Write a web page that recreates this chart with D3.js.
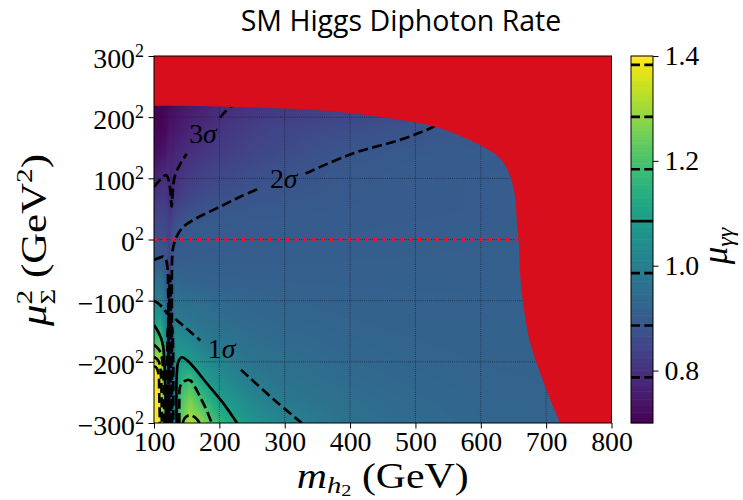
<!DOCTYPE html>
<html><head><meta charset="utf-8">
<script src="https://cdn.jsdelivr.net/npm/d3@7"></script>
<style>body{margin:0;background:#fff} svg{display:block}</style>
</head><body>
<svg id="chart" width="743" height="500"></svg>
<script>
// ---------------- data ----------------
const xTicks = [100, 200, 300, 400, 500, 600, 700, 800];
const yTicks = [-300, -200, -100, 0, 100, 200, 300];
const cbTicks = [0.8, 1.0, 1.2, 1.4];
const contourLevels = [0.787, 0.886, 0.986, 1.085, 1.184, 1.284, 1.383];
const centralLevel = 1.085;

// grid nodes: m_h2 (GeV) and signed mu_Sigma (GeV)
const massNodes = [100, 110, 117, 121, 124, 126, 129, 134, 142, 155, 175, 200, 250, 300, 400, 500, 600, 700, 800];
const muNodes = [300, 219, 180, 140, 105, 75, 50, 25, 0, -30, -65, -100, -135, -170, -200, -230, -260, -300];
const rateGrid = [
 [0.705,0.705,0.71,0.715,0.72,0.72,0.725,0.73,0.735,0.75,0.765,0.785,0.80,0.81,0.83,0.85,0.86,0.87,0.87],
 [0.705,0.705,0.71,0.715,0.72,0.72,0.725,0.73,0.735,0.75,0.765,0.785,0.80,0.81,0.83,0.85,0.86,0.87,0.87],
 [0.71,0.71,0.715,0.725,0.74,0.74,0.74,0.745,0.755,0.77,0.786,0.805,0.83,0.845,0.865,0.88,0.89,0.89,0.89],
 [0.725,0.73,0.74,0.76,0.765,0.765,0.765,0.775,0.78,0.795,0.81,0.825,0.845,0.86,0.887,0.896,0.9,0.9,0.9],
 [0.765,0.78,0.79,0.795,0.78,0.775,0.785,0.795,0.805,0.82,0.835,0.85,0.865,0.88,0.894,0.9,0.903,0.903,0.903],
 [0.80,0.81,0.81,0.80,0.77,0.775,0.795,0.81,0.825,0.84,0.855,0.866,0.882,0.888,0.894,0.9,0.903,0.903,0.903],
 [0.83,0.835,0.83,0.82,0.80,0.80,0.82,0.84,0.855,0.865,0.877,0.887,0.891,0.894,0.898,0.90,0.903,0.903,0.903],
 [0.85,0.855,0.85,0.84,0.83,0.84,0.855,0.87,0.883,0.891,0.894,0.896,0.898,0.899,0.901,0.903,0.905,0.905,0.905],
 [0.87,0.872,0.865,0.855,0.84,0.855,0.88,0.888,0.893,0.896,0.898,0.899,0.90,0.901,0.903,0.905,0.907,0.907,0.907],
 [0.888,0.89,0.88,0.86,0.84,0.87,0.89,0.897,0.90,0.902,0.903,0.904,0.905,0.906,0.907,0.908,0.909,0.909,0.909],
 [0.94,0.95,0.91,0.87,0.80,0.85,0.91,0.928,0.925,0.921,0.918,0.915,0.913,0.912,0.911,0.911,0.911,0.911,0.911],
 [0.99,1.0,0.95,0.88,0.76,0.82,0.93,0.96,0.955,0.95,0.945,0.938,0.928,0.922,0.917,0.915,0.914,0.914,0.914],
 [1.08,1.10,1.0,0.95,0.78,0.82,0.95,1.0,0.985,0.975,0.962,0.95,0.937,0.929,0.922,0.918,0.916,0.916,0.916],
 [1.19,1.22,1.08,0.96,0.76,0.81,0.96,1.06,1.05,1.03,0.992,0.975,0.952,0.94,0.928,0.922,0.919,0.918,0.918],
 [1.34,1.33,1.12,0.97,0.75,0.80,0.97,1.06,1.095,1.08,1.04,1.01,0.968,0.952,0.933,0.925,0.921,0.92,0.92],
 [1.45,1.37,1.15,0.98,0.74,0.80,0.98,1.07,1.15,1.185,1.095,1.05,0.99,0.963,0.94,0.929,0.923,0.921,0.921],
 [1.5,1.37,1.17,0.99,0.74,0.80,0.99,1.08,1.2,1.25,1.17,1.09,1.02,0.978,0.95,0.934,0.925,0.922,0.922],
 [1.5,1.37,1.17,0.99,0.74,0.80,0.99,1.08,1.24,1.32,1.27,1.16,1.066,1.016,0.96,0.94,0.928,0.924,0.924]
];

// excluded (red) region boundary, [m, mu], from the bottom edge up to the left edge
const excludedBoundary = [[721.7,-300],[706.4,-262.4],[691.1,-218.7],[675.8,-169.7],
  [665.5,-109.9],[660.5,-60.8],[657.9,-0.8],[655.4,26.5],[652.5,70],[646,100],[637,122],[624,138],[610,148],
  [594,157],[576,166],[556,175],[534,183],[510,189.5],[476.7,195.4],[440,201.5],[400,207],[350,211.5],[300,214],
  [200,217.5],[100,218.7]];

// contour lines, [m, mu]
const sigma3a = [[100,86],[108,96],[116.8,105],[120,104],[123,95],[125,80],[126.3,62],[127,54],[127.8,62],[128.8,80],[131,100],[136,115],[142,127],[150,140]];
const sigma3b = [[201,199],[209,209],[220,219]];
const sigma3wall = [[123.3,-300],[123.3,-150],[123.6,-80],[124.4,-60],[125.2,-80],[125.6,-150],[125.8,-300]];
const sigma2a = [[127.5,-300],[127.5,-200],[127.3,-100],[127.4,-50],[128,-25],[129.6,-11.7],[134.6,4.6],[145,21],[165,34.7],[201,53.6],[232,70],[262,84]];
const sigma2b = [[332,108],[405,141],[477,163],[523,182],[545,195]];
const sigma2c = [[100,-33],[108,-30],[114,-28],[118,-32],[120.5,-45],[121.5,-70],[122,-300]];
const sigma1a = [[100,-100],[106,-104],[112,-110],[118,-118],[124,-125],[130,-128],[135,-132],[150,-146],[171,-165]];
const sigma1b = [[233,-213],[282.7,-261],[326,-300]];
const sigma1wall = [[120.5,-300],[120.5,-170],[121.5,-145],[124.5,-138],[127.5,-145],[129,-170],[129.5,-300]];
const centralA = [[100,-140],[106,-150],[111,-162],[114,-175],[116,-200],[117.5,-250],[118.5,-300]];
const centralB = [[134.7,-300],[134.7,-224],[137.2,-200],[142.4,-192.6],[146,-194],[155.1,-202],[180.7,-235],[206.1,-268],[227,-300]];
const upper1a = [[100,-172],[106,-178],[110,-185],[113,-200],[115,-240],[116,-300]];
const upper1b = [[138.8,-300],[138.8,-262],[140,-240],[146,-232],[155,-230],[162,-240],[170.4,-257],[180,-278],[188.4,-300]];
const upper2a = [[100,-192],[106,-197],[109,-205],[111,-230],[112,-300]];
const upper2b = [[144,-300],[147,-292],[155,-287],[163,-291],[170,-300]];
const upper3a = [[100,-207],[104,-210],[107,-220],[108,-250],[109,-300]];

const dashedLines = [sigma3a, sigma3b, sigma3wall, sigma2a, sigma2b, sigma2c, sigma1a, sigma1b, sigma1wall,
                     upper1a, upper1b, upper2a, upper2b, upper3a];
const solidLines = [centralA, centralB];

const sigmaLabels = [["3", 175, 172.5], ["2", 298.5, 99.2], ["1", 203.5, -178]];

// ---------------- drawing ----------------
const svg = d3.select("#chart");
const serif = "'Liberation Serif','DejaVu Serif',serif";
const x = d3.scaleLinear().domain([100, 800]).range([154, 611.5]);
const y = d3.scaleLinear().domain([-300, 300]).range([423, 56]);
const color = d3.scaleSequential(d3.interpolateViridis).domain([0.70, 1.40]).clamp(true);

// heatmap (bilinear shading between grid nodes)
const cw = Math.ceil(x(800) - x(100)), ch = Math.round(y(-300) - y(300));
const canvas = document.createElement("canvas");
canvas.width = cw; canvas.height = ch;
const ctx = canvas.getContext("2d");
const img = ctx.createImageData(cw, ch);
const sAsc = muNodes.slice().reverse();
const gAsc = rateGrid.slice().reverse();
function locate(arr, v) {
  let i = d3.bisectRight(arr, v) - 1;
  i = Math.max(0, Math.min(arr.length - 2, i));
  const t = Math.max(0, Math.min(1, (v - arr[i]) / (arr[i + 1] - arr[i])));
  return [i, t];
}
const xs = d3.range(cw).map(px => locate(massNodes, x.invert(x(100) + px + 0.5)));
for (let py = 0; py < ch; py++) {
  const [j, tj] = locate(sAsc, y.invert(y(300) + py + 0.5));
  const r0 = gAsc[j], r1 = gAsc[j + 1];
  for (let px = 0; px < cw; px++) {
    const [i, ti] = xs[px];
    const a = r0[i] * (1 - ti) + r0[i + 1] * ti;
    const b = r1[i] * (1 - ti) + r1[i + 1] * ti;
    const v = a * (1 - tj) + b * tj;
    const c = d3.rgb(color(v));
    const k = (py * cw + px) * 4;
    img.data[k] = c.r; img.data[k + 1] = c.g; img.data[k + 2] = c.b; img.data[k + 3] = 255;
  }
}
ctx.putImageData(img, 0, 0);
svg.append("defs").append("clipPath").attr("id", "plotclip").append("rect")
  .attr("x", x(100)).attr("y", y(300)).attr("width", x(800) - x(100)).attr("height", y(-300) - y(300));
svg.append("image").attr("href", canvas.toDataURL()).attr("x", x(100)).attr("y", y(300))
  .attr("width", x(800) - x(100)).attr("height", y(-300) - y(300)).attr("preserveAspectRatio", "none");

const plot = svg.append("g").attr("clip-path", "url(#plotclip)");
// grid
plot.selectAll(".gx").data(xTicks.slice(1, -1)).join("line")
  .attr("x1", d => x(d)).attr("x2", d => x(d)).attr("y1", y(300)).attr("y2", y(-300))
  .attr("stroke", "#1a1a2a").attr("stroke-width", 0.8).attr("stroke-dasharray", "0.8,1.3");
plot.selectAll(".gy").data(yTicks.slice(1, -1)).join("line")
  .attr("y1", d => y(d)).attr("y2", d => y(d)).attr("x1", x(100)).attr("x2", x(800))
  .attr("stroke", "#1a1a2a").attr("stroke-width", 0.8).attr("stroke-dasharray", "0.8,1.3");

// contours
const line = d3.line().x(d => x(d[0])).y(d => y(d[1])).curve(d3.curveCatmullRom.alpha(0.5));
plot.selectAll(".dl").data(dashedLines).join("path").attr("d", line)
  .attr("fill", "none").attr("stroke", "#000").attr("stroke-width", 2.7).attr("stroke-dasharray", "10,4.3");
plot.selectAll(".sl").data(solidLines).join("path").attr("d", line)
  .attr("fill", "none").attr("stroke", "#000").attr("stroke-width", 2.7);

// excluded region
plot.append("path")
  .attr("d", line(excludedBoundary) + `L${x(100)},${y(300)}L${x(800)},${y(300)}L${x(800)},${y(-300)}Z`)
  .attr("fill", "#d80e1c");

// mu = 0 dotted red line
plot.append("line").attr("x1", x(100)).attr("x2", x(657.9)).attr("y1", y(0)).attr("y2", y(0))
  .attr("stroke", "#ff1010").attr("stroke-width", 3).attr("stroke-dasharray", "3,5.8");

// sigma labels
const lab = svg.append("g").attr("font-family", serif).attr("font-size", 27.8).attr("text-anchor", "middle");
sigmaLabels.forEach(([n, m, s]) => {
  const t = lab.append("text").attr("x", x(m)).attr("y", y(s)).attr("dy", "0.33em");
  t.append("tspan").text(n);
  t.append("tspan").attr("font-style", "italic").text("\u03c3");
});

// frame
svg.append("rect").attr("x", x(100)).attr("y", y(300)).attr("width", x(800) - x(100)).attr("height", y(-300) - y(300))
  .attr("fill", "none").attr("stroke", "#000").attr("stroke-width", 1);

// axes
const gx = svg.append("g").attr("transform", `translate(0,${y(-300)})`)
  .call(d3.axisBottom(x).tickValues(xTicks).tickSize(5.5).tickPadding(3).tickFormat(d3.format("d")));
const gy = svg.append("g").attr("transform", `translate(${x(100)},0)`)
  .call(d3.axisLeft(y).tickValues(yTicks).tickSize(5.5).tickPadding(4.5).tickFormat(d => (d < 0 ? "\u2212" : "") + Math.abs(d)));
[gx, gy].forEach(g => {
  g.select(".domain").remove();
  g.selectAll(".tick line").attr("stroke", "#000").attr("stroke-width", 1);
  g.selectAll(".tick text").attr("font-family", serif).attr("font-size", 27.8).attr("fill", "#000");
});
gy.selectAll(".tick text").attr("dy", "0.41em").each(function () {
  d3.select(this).append("tspan").attr("font-size", 18).attr("dy", -11).text("2");
});

// axis labels
const xl = svg.append("text").attr("x", (x(100) + x(800)) / 2).attr("y", 488).attr("text-anchor", "middle")
  .attr("font-family", serif).attr("font-size", 35)
  .attr("textLength", 172).attr("lengthAdjust", "spacingAndGlyphs");
xl.append("tspan").attr("font-style", "italic").text("m");
xl.append("tspan").attr("font-style", "italic").attr("font-size", 24).attr("dy", 5).text("h");
xl.append("tspan").attr("font-size", 17).attr("dy", 3).text("2");
xl.append("tspan").attr("dy", -8).text("\u00a0(GeV)");

const yl = svg.append("text").attr("transform", "translate(46,240) rotate(-90)").attr("text-anchor", "middle")
  .attr("font-family", serif).attr("font-size", 35)
  .attr("textLength", 172).attr("lengthAdjust", "spacingAndGlyphs");
yl.append("tspan").attr("font-style", "italic").text("\u03bc");
yl.append("tspan").attr("font-size", 24).attr("dy", -14).text("2");
yl.append("tspan").attr("font-size", 22).attr("dx", -12).attr("dy", 23).text("\u03a3");
yl.append("tspan").attr("dy", -9).text("\u00a0(GeV");
yl.append("tspan").attr("font-size", 24).attr("dy", -14).text("2");
yl.append("tspan").attr("dy", 14).text(")");

// title
svg.append("text").attr("x", 401).attr("y", 31).attr("text-anchor", "middle")
  .attr("font-family", "'Open Sans','DejaVu Sans',sans-serif").attr("font-size", 28.5).attr("fill", "#000")
  .text("SM Higgs Diphoton Rate");

// colorbar
const cbx0 = 631, cbx1 = 653;
const cb = d3.scaleLinear().domain([0.70, 1.40]).range([423, 56]);
const cbSteps = d3.range(0, 141).map(i => 0.70 + i * 0.005);
svg.append("g").selectAll("rect").data(cbSteps.slice(0, -1)).join("rect")
  .attr("x", cbx0).attr("width", cbx1 - cbx0)
  .attr("y", (d, i) => cb(cbSteps[i + 1]) - 0.3).attr("height", (d, i) => cb(d) - cb(cbSteps[i + 1]) + 0.6)
  .attr("fill", d => color(d + 0.0025));
svg.append("g").selectAll("line").data(contourLevels).join("line")
  .attr("x1", cbx0).attr("x2", cbx1).attr("y1", d => cb(d)).attr("y2", d => cb(d))
  .attr("stroke", "#000").attr("stroke-width", 2.7)
  .attr("stroke-dasharray", d => d === centralLevel ? null : "9,4.3");
svg.append("rect").attr("x", cbx0).attr("y", 56).attr("width", cbx1 - cbx0).attr("height", 367)
  .attr("fill", "none").attr("stroke", "#000").attr("stroke-width", 1);
const gcb = svg.append("g").attr("transform", `translate(${cbx1},0)`)
  .call(d3.axisRight(cb).tickValues(cbTicks).tickSize(5.5).tickPadding(6).tickFormat(d3.format(".1f")));
gcb.select(".domain").remove();
gcb.selectAll(".tick line").attr("stroke", "#000");
gcb.selectAll(".tick text").attr("font-family", serif).attr("font-size", 27.8).attr("fill", "#000");

const cl = svg.append("text").attr("transform", "translate(727,246) rotate(-90)").attr("text-anchor", "middle")
  .attr("font-family", serif).attr("font-size", 35);
cl.append("tspan").attr("font-style", "italic").text("\u03bc");
cl.append("tspan").attr("font-style", "italic").attr("font-size", 24).attr("dy", 6).text("\u03b3\u03b3");
</script>
</body></html>
